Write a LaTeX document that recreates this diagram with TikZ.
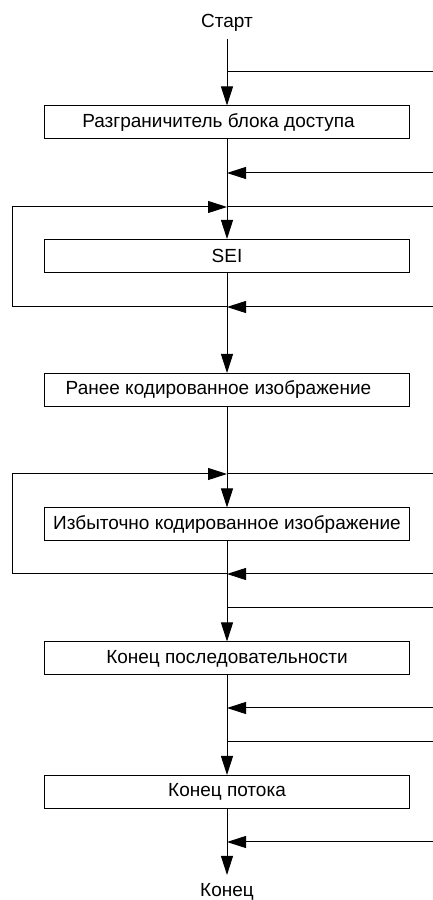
\documentclass[tikz,border=0pt]{standalone}
\usepackage{fontspec}
\setmainfont{Liberation Sans}
\usetikzlibrary{arrows.meta}
\begin{document}
\begin{tikzpicture}[x=1pt,y=1pt,
  blk/.style={draw=drawColor,line width=1pt,minimum width=365pt,minimum height=33pt,inner sep=0pt},
  lbl/.style={text=drawColor,anchor=base,inner sep=0pt},
  arr/.style={-{Triangle[length=19pt,width=12pt]}}]
\definecolor{fillColor}{RGB}{255,255,255}
\definecolor{drawColor}{RGB}{0,0,0}
\fontsize{19}{23}\selectfont
\path[use as bounding box,fill=fillColor] (0,0) rectangle (433,900);

\node[lbl,outer sep=7pt] (start) at (227,872) {Старт};
\node[lbl,outer sep=8pt] (stop) at (227,4) {Конец};

\node[blk] (delim) at (227,777.5) {Разграничитель блока доступа\hspace{17pt}\mbox{}};
\node[blk] (sei) at (227,644) {SEI};
\node[blk] (prev) at (227,510) {Ранее кодированное изображение\hspace{17pt}\mbox{}};
\node[blk] (redund) at (227,375.5) {Избыточно кодированное изображение};
\node[blk] (eoseq) at (227,241.5) {Конец последовательности};
\node[blk] (eostr) at (227,108) {Конец потока};

% points on the main line
\coordinate (j1) at (227,828);
\coordinate (j2) at (227,727);
\coordinate (j3) at (227,693);
\coordinate (j4) at (227,593);
\coordinate (j5) at (227,426);
\coordinate (j6) at (227,326);
\coordinate (j7) at (227,292);
\coordinate (j8) at (227,192);
\coordinate (j9) at (227,158);
\coordinate (j10) at (227,58);

% free ends at the edges
\coordinate (r1) at (433,828);
\coordinate (r2) at (433,727);
\coordinate (r3) at (433,693);
\coordinate (r4) at (433,593);
\coordinate (r5) at (433,426);
\coordinate (r6) at (433,326);
\coordinate (r7) at (433,292);
\coordinate (r8) at (433,192);
\coordinate (r9) at (433,158);
\coordinate (r10) at (433,58);
\coordinate (l3) at (12,693);
\coordinate (l5) at (12,426);

\begin{scope}[draw=drawColor,line width=1pt]
\draw[arr] (start) -- (delim);
\draw[arr] (delim) -- (sei);
\draw[arr] (sei) -- (prev);
\draw[arr] (prev) -- (redund);
\draw[arr] (redund) -- (eoseq);
\draw[arr] (eoseq) -- (eostr);
\draw[arr] (eostr) -- (stop);

\draw (j1) -- (r1);
\draw[arr] (r2) -- (j2);
\draw (j3) -- (r3);
\draw[arr] (r4) -- (j4);
\draw[arr] (j4) -| (l3) -- (j3);
\draw (j5) -- (r5);
\draw[arr] (r6) -- (j6);
\draw[arr] (j6) -| (l5) -- (j5);
\draw (j7) -- (r7);
\draw[arr] (r8) -- (j8);
\draw (j9) -- (r9);
\draw[arr] (r10) -- (j10);
\end{scope}
\end{tikzpicture}
\end{document}
